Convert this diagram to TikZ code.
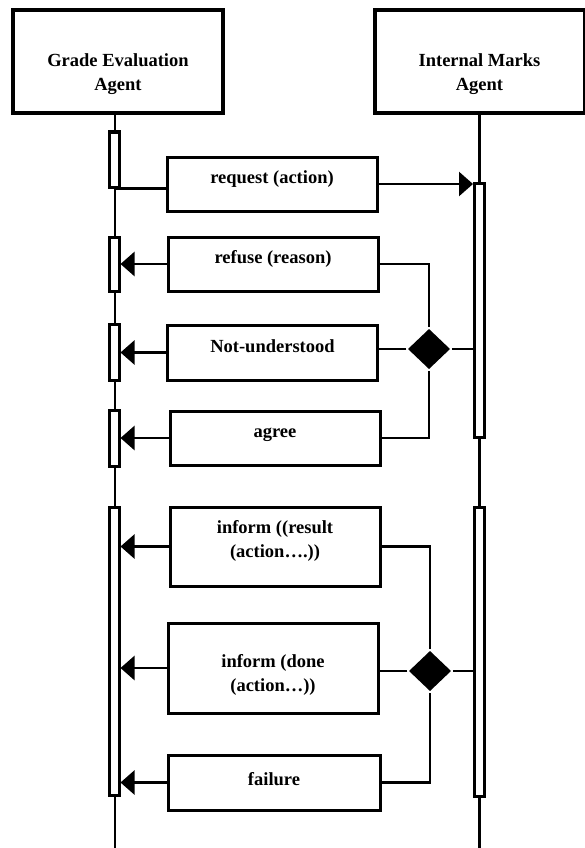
\documentclass[tikz,border=0pt]{standalone}
\usepackage{fontspec}
\setmainfont{Liberation Serif}
\usetikzlibrary{arrows.meta, positioning, shapes.geometric}

\begin{document}
\begin{tikzpicture}[x=1pt,y=-1pt,line width=2.5pt,
    font=\bfseries\fontsize{18.5}{24}\selectfont]
  \tikzstyle{agent}=[draw,line width=4pt,minimum width=210pt,minimum height=103pt,align=center,
    text height=63pt,text depth=4pt]
  \tikzstyle{msg}=[draw,line width=3pt,minimum width=210pt,minimum height=54pt,align=center,inner sep=0pt,
    text height=13pt,text depth=14pt]
  \tikzstyle{bar}=[draw,fill=white,line width=3pt,minimum width=10pt,inner sep=0pt]
  \tikzstyle{choice}=[diamond,fill=black,minimum width=43pt,minimum height=41pt,inner sep=0pt]
  \tikzstyle{reply}=[-{Triangle[length=14pt,width=24pt]}]

  \useasboundingbox (0,0) rectangle (584,848);

  % agents and lifelines
  \node[agent] (ge) at (118,61.5)   {Grade Evaluation\\Agent};
  \node[agent] (im) at (479.5,61.5) {Internal Marks\\Agent};
  \coordinate (geend) at (115,848);
  \coordinate (imend) at (479.5,848);
  \draw (ge.south -| geend) -- (geend);
  \draw (im.south) -- (imend);

  % activation bars
  \node[bar,minimum height=55pt]  (gbar1) at (114,159.5) {};
  \node[bar,minimum height=54pt]  (gbar2) at (114,264) {};
  \node[bar,minimum height=56pt]  (gbar3) at (114,352) {};
  \node[bar,minimum height=56pt]  (gbar4) at (114,438) {};
  \node[bar,minimum height=288pt] (gbar5) at (114,651) {};
  \node[bar,minimum height=254pt] (ibar1) at (479.5,310) {};
  \node[bar,minimum height=289pt] (ibar2) at (479.5,651.5) {};

  % messages
  \node[msg] (mreq)  at (272,184) {request (action)};
  \node[msg] (mref)  at (273,264) {refuse (reason)};
  \node[msg,minimum height=55pt] (mnu) at (272.5,352.5) {Not-understood};
  \node[msg] (magr)  at (275,438) {agree};
  \node[msg,minimum height=79pt,text height=37pt,text depth=16pt] (mres) at (275,546.5) {inform ((result\\(action….))};
  \node[msg,minimum height=90pt,text height=51pt,text depth=4pt] (mdone) at (273,668) {inform (done\\(action…))};
  \node[msg,minimum height=55pt,minimum width=212pt,text depth=8pt] (mfail) at (274,782.5) {failure};

  % choices
  \node[choice] (d1) at (429,349) {};
  \node[choice] (d2) at (430,671) {};

  \draw (gbar1.south) -- (gbar1.south -| mreq.west);
  \path[reply]
  (mreq.east)  edge (mreq.east -| ibar1.west)
  (mref.west)  edge (mref.west -| gbar2.east)
  (mnu.west)   edge (mnu.west -| gbar3.east)
  (magr.west)  edge (magr.west -| gbar4.east)
  (mres.west)  edge (mres.west -| gbar5.east)
  (mdone.west) edge (mdone.west -| gbar5.east)
  (mfail.west) edge (mfail.west -| gbar5.east)
  ;

  \draw (mref.east) -| (d1.north);
  \draw (d1.west) -- (d1.west -| mnu.east);
  \draw (magr.east) -| (d1.south);
  \draw (d1.east) -- (d1.east -| ibar1.west);

  \draw (mres.east) -| (d2.north);
  \draw (d2.west) -- (d2.west -| mdone.east);
  \draw (mfail.east) -| (d2.south);
  \draw (d2.east) -- (d2.east -| ibar2.west);
\end{tikzpicture}
\end{document}
